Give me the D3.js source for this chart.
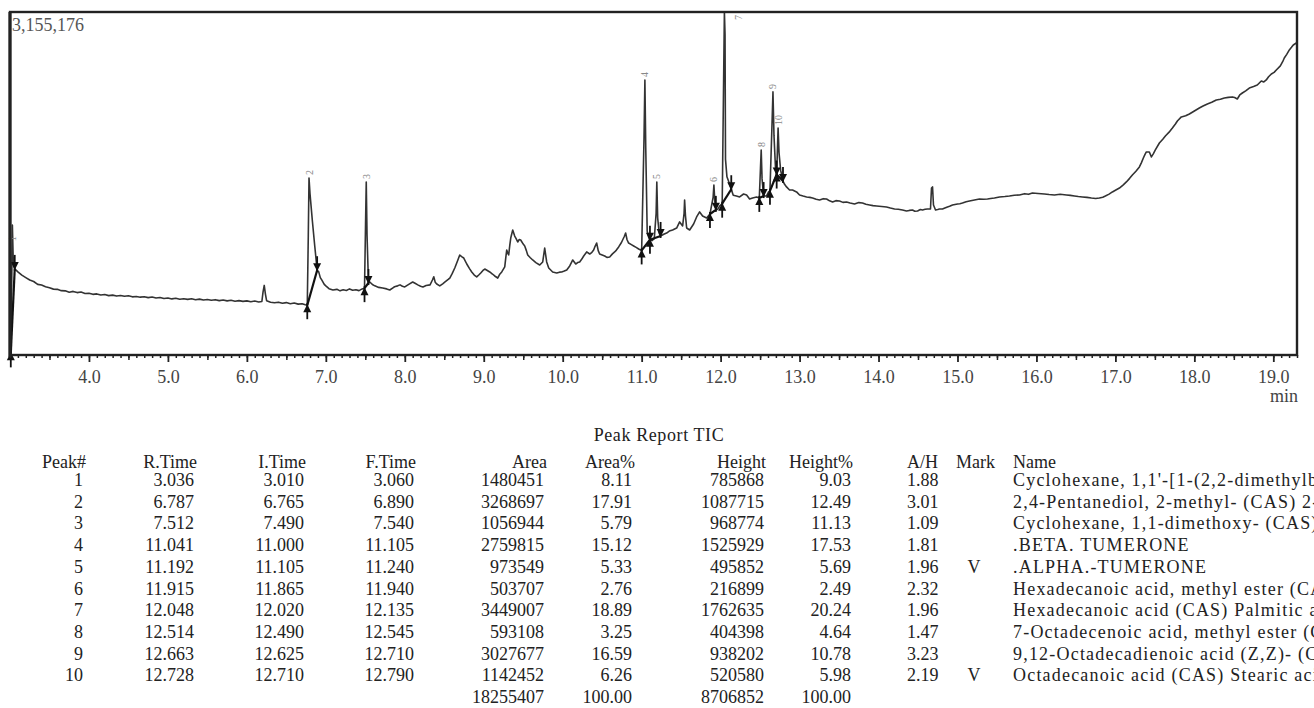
<!DOCTYPE html>
<html>
<head>
<meta charset="utf-8">
<script src="https://cdn.jsdelivr.net/npm/d3@7/dist/d3.min.js"></script>
<style>
    body { margin: 0; background: #fff; }
    svg { display: block; font-family: "Liberation Serif", "Times New Roman", serif; }
</style>
</head>
<body>
<div id="chart"></div>
<script>
// TIC trace: [retention time (min), intensity (x1000 counts)]
var trace = [
    [3.000, 0], [3.010, 15], [3.022, 700], [3.030, 1196], [3.040, 900], [3.050, 820], [3.060, 792],
    [3.10, 765], [3.15, 735], [3.20, 712], [3.25, 690], [3.30, 676], [3.35, 650], [3.40, 644], [3.45, 628],
    [3.50, 618], [3.55, 606], [3.60, 604], [3.65, 592], [3.70, 590], [3.75, 578], [3.80, 585], [3.85, 574],
    [3.90, 579], [3.95, 566], [4.00, 568], [4.05, 558], [4.10, 562], [4.15, 552], [4.20, 556], [4.25, 546],
    [4.30, 551], [4.35, 542], [4.40, 548], [4.45, 540], [4.50, 545], [4.55, 535], [4.60, 538], [4.65, 532],
    [4.70, 536], [4.75, 528], [4.80, 533], [4.85, 524], [4.90, 529], [4.95, 520], [5.00, 525], [5.05, 516],
    [5.10, 522], [5.15, 513], [5.20, 518], [5.25, 512], [5.30, 517], [5.35, 508], [5.40, 514], [5.45, 506],
    [5.50, 511], [5.55, 503], [5.60, 509], [5.65, 500], [5.70, 506], [5.75, 498], [5.80, 503], [5.85, 495],
    [5.90, 500], [5.95, 493], [6.00, 498], [6.05, 490], [6.10, 496], [6.15, 488], [6.19, 492], [6.205, 580],
    [6.22, 640], [6.235, 560], [6.25, 500], [6.30, 486], [6.35, 480], [6.40, 486], [6.45, 476], [6.50, 482],
    [6.55, 472], [6.60, 478], [6.65, 468], [6.70, 472], [6.74, 462], [6.765, 458],
    [6.778, 1100], [6.787, 1628], [6.80, 1480], [6.83, 1230], [6.86, 1000], [6.89, 780], [6.91, 765],
    [6.93, 712], [6.95, 688], [6.98, 650], [7.00, 636], [7.04, 610], [7.09, 598], [7.14, 604], [7.18, 590],
    [7.22, 600], [7.26, 594], [7.30, 608], [7.34, 596], [7.38, 600], [7.42, 592], [7.46, 608], [7.49, 615],
    [7.503, 1200], [7.512, 1592], [7.522, 1100], [7.540, 662], [7.557, 672], [7.59, 648], [7.62, 636],
    [7.67, 622], [7.72, 616], [7.77, 608], [7.81, 598], [7.85, 618], [7.87, 628], [7.91, 636], [7.94, 645],
    [7.97, 632], [8.00, 626], [8.05, 650], [8.10, 672], [8.13, 660], [8.165, 645], [8.20, 632], [8.23, 626],
    [8.27, 640], [8.32, 645], [8.35, 690], [8.367, 720], [8.385, 670], [8.405, 653], [8.443, 636],
    [8.48, 655], [8.51, 672], [8.55, 695], [8.57, 708], [8.60, 748], [8.633, 800], [8.67, 870], [8.696, 920],
    [8.72, 905], [8.747, 892], [8.785, 837], [8.82, 795], [8.848, 764], [8.88, 735], [8.911, 718],
    [8.94, 738], [8.962, 754], [8.99, 778], [9.013, 791], [9.04, 780], [9.076, 764], [9.11, 745],
    [9.139, 727], [9.177, 708], [9.20, 740], [9.228, 764], [9.266, 810], [9.28, 900], [9.291, 966],
    [9.305, 935], [9.316, 920], [9.33, 1010], [9.342, 1076], [9.367, 1150], [9.392, 1094], [9.41, 1070],
    [9.43, 1040], [9.45, 1062], [9.468, 1058], [9.50, 1020], [9.519, 1003], [9.54, 960], [9.557, 920],
    [9.59, 895], [9.62, 874], [9.66, 850], [9.709, 828], [9.747, 856], [9.772, 984], [9.797, 856],
    [9.823, 800], [9.873, 764], [9.924, 754], [9.96, 762], [9.987, 764], [10.02, 772], [10.051, 782],
    [10.089, 819], [10.11, 850], [10.127, 874], [10.165, 837], [10.19, 850], [10.215, 856], [10.24, 880],
    [10.266, 911], [10.304, 948], [10.342, 929], [10.37, 945], [10.392, 966], [10.41, 1000], [10.43, 1030],
    [10.45, 960], [10.468, 929], [10.50, 920], [10.532, 911], [10.56, 898], [10.595, 902], [10.63, 930],
    [10.658, 948], [10.68, 965], [10.709, 994], [10.74, 1030], [10.759, 1058], [10.78, 1090], [10.797, 1122],
    [10.815, 1060], [10.835, 1030], [10.87, 1015], [10.899, 1003], [10.93, 990], [10.962, 975], [11.000, 962],
    [11.030, 2000], [11.041, 2530], [11.052, 1900], [11.07, 1140], [11.09, 1080], [11.105, 1060],
    [11.13, 1052], [11.16, 1070], [11.183, 1300], [11.192, 1592], [11.203, 1260], [11.222, 1120],
    [11.240, 1095], [11.28, 1110], [11.316, 1122], [11.35, 1140], [11.392, 1150], [11.443, 1168],
    [11.481, 1224], [11.519, 1187], [11.537, 1300], [11.544, 1426], [11.555, 1280], [11.570, 1168],
    [11.608, 1150], [11.658, 1205], [11.696, 1270], [11.734, 1316], [11.772, 1279], [11.823, 1260],
    [11.865, 1297], [11.905, 1450], [11.915, 1564], [11.927, 1410], [11.940, 1335], [11.962, 1340],
    [11.99, 1372], [12.020, 1392], [12.040, 2650], [12.048, 3155], [12.056, 2950], [12.062, 1800],
    [12.08, 1640], [12.10, 1600], [12.135, 1525], [12.16, 1470], [12.20, 1462], [12.241, 1454],
    [12.291, 1481], [12.329, 1472], [12.367, 1435], [12.405, 1444], [12.456, 1454], [12.490, 1445],
    [12.505, 1720], [12.514, 1886], [12.525, 1620], [12.545, 1462], [12.582, 1463], [12.608, 1500],
    [12.625, 1510], [12.650, 2100], [12.663, 2420], [12.676, 2020], [12.695, 1720], [12.710, 1660],
    [12.720, 1900], [12.728, 2088], [12.740, 1860], [12.760, 1700], [12.790, 1600], [12.81, 1570],
    [12.835, 1546], [12.873, 1518], [12.911, 1518], [12.962, 1500], [13.000, 1472], [13.045, 1462],
    [13.089, 1454], [13.13, 1450], [13.165, 1444], [13.21, 1432], [13.253, 1426], [13.30, 1438],
    [13.342, 1435], [13.38, 1418], [13.418, 1408], [13.46, 1420], [13.506, 1417], [13.55, 1404],
    [13.595, 1408], [13.64, 1398], [13.696, 1389], [13.75, 1402], [13.797, 1398], [13.84, 1386],
    [13.886, 1380], [13.93, 1374], [13.975, 1371], [14.04, 1366], [14.101, 1362], [14.15, 1352],
    [14.203, 1343], [14.25, 1340], [14.304, 1334], [14.354, 1325], [14.39, 1330], [14.430, 1334],
    [14.46, 1322], [14.494, 1325], [14.53, 1338], [14.557, 1334], [14.59, 1340], [14.620, 1343],
    [14.658, 1343], [14.671, 1536], [14.684, 1546], [14.696, 1380], [14.722, 1334], [14.75, 1338],
    [14.772, 1343], [14.810, 1343], [14.84, 1352], [14.873, 1362], [14.90, 1368], [14.937, 1380],
    [15.000, 1389], [15.03, 1392], [15.063, 1398], [15.11, 1410], [15.152, 1417], [15.215, 1426],
    [15.278, 1435], [15.33, 1432], [15.380, 1435], [15.42, 1440], [15.468, 1444], [15.532, 1454],
    [15.60, 1458], [15.658, 1463], [15.72, 1470], [15.785, 1472], [15.85, 1484], [15.90, 1478],
    [15.949, 1490], [16.02, 1486], [16.101, 1481], [16.16, 1476], [16.228, 1472], [16.30, 1478],
    [16.380, 1472], [16.43, 1468], [16.481, 1463], [16.53, 1458], [16.582, 1454], [16.64, 1450],
    [16.696, 1444], [16.75, 1440], [16.797, 1444], [16.84, 1452], [16.873, 1463], [16.92, 1480],
    [16.962, 1500], [17.00, 1515], [17.051, 1536], [17.10, 1565], [17.139, 1592], [17.18, 1625],
    [17.215, 1656], [17.26, 1690], [17.304, 1730], [17.33, 1770], [17.354, 1812], [17.375, 1845],
    [17.392, 1868], [17.430, 1868], [17.456, 1822], [17.48, 1850], [17.506, 1886], [17.557, 1950],
    [17.60, 1985], [17.633, 2015], [17.68, 2050], [17.722, 2088], [17.76, 2125], [17.785, 2153],
    [17.835, 2190], [17.89, 2200], [17.937, 2217], [18.00, 2245], [18.063, 2272], [18.11, 2290],
    [18.165, 2309], [18.22, 2325], [18.278, 2346], [18.33, 2352], [18.380, 2364], [18.43, 2370],
    [18.481, 2374], [18.51, 2368], [18.544, 2355], [18.575, 2392], [18.608, 2410], [18.65, 2430],
    [18.696, 2456], [18.75, 2470], [18.797, 2484], [18.848, 2521], [18.88, 2512], [18.911, 2530],
    [18.94, 2560], [18.975, 2585], [19.01, 2600], [19.038, 2622], [19.089, 2659], [19.12, 2700],
    [19.139, 2732], [19.17, 2765], [19.203, 2806], [19.23, 2830], [19.253, 2852], [19.291, 2870]
];
var yMax = 3155.176;          // top of the window (x1000), printed as 3,155,176
var timeRange = [3.0, 19.3];
var majorTicks = [4, 5, 6, 7, 8, 9, 10, 11, 12, 13, 14, 15, 16, 17, 18, 19];

// peak report table
var peakNo = [1, 2, 3, 4, 5, 6, 7, 8, 9, 10];
var rTime = [3.036, 6.787, 7.512, 11.041, 11.192, 11.915, 12.048, 12.514, 12.663, 12.728];
var iTime = [3.010, 6.765, 7.490, 11.000, 11.105, 11.865, 12.020, 12.490, 12.625, 12.710];
var fTime = [3.060, 6.890, 7.540, 11.105, 11.240, 11.940, 12.135, 12.545, 12.710, 12.790];
var area = [1480451, 3268697, 1056944, 2759815, 973549, 503707, 3449007, 593108, 3027677, 1142452];
var areaPct = [8.11, 17.91, 5.79, 15.12, 5.33, 2.76, 18.89, 3.25, 16.59, 6.26];
var height = [785868, 1087715, 968774, 1525929, 495852, 216899, 1762635, 404398, 938202, 520580];
var heightPct = [9.03, 12.49, 11.13, 17.53, 5.69, 2.49, 20.24, 4.64, 10.78, 5.98];
var aH = [1.88, 3.01, 1.09, 1.81, 1.96, 2.32, 1.96, 1.47, 3.23, 2.19];
var mark = ['', '', '', '', 'V', '', '', '', '', 'V'];
var names = [
    "Cyclohexane, 1,1'-[1-(2,2-dimethylbutyl)-1,3-propanediyl]bis- (CAS)",
    "2,4-Pentanediol, 2-methyl- (CAS) 2-Methyl-2,4-pentanediol",
    "Cyclohexane, 1,1-dimethoxy- (CAS) Cyclohexanone dimethyl ketal",
    ".BETA. TUMERONE",
    ".ALPHA.-TUMERONE",
    "Hexadecanoic acid, methyl ester (CAS) Methyl palmitate",
    "Hexadecanoic acid (CAS) Palmitic acid",
    "7-Octadecenoic acid, methyl ester (CAS)",
    "9,12-Octadecadienoic acid (Z,Z)- (CAS) Linoleic acid",
    "Octadecanoic acid (CAS) Stearic acid"
];
var totals = { area: 18255407, areaPct: 100.00, height: 8706852, heightPct: 100.00 };

var W = 1314, H = 708;
var plot = { left: 10, right: 1297, top: 12, bottom: 355 };

var svg = d3.select('#chart').append('svg')
    .attr('width', W)
    .attr('height', H)
    .attr('viewBox', '0 0 ' + W + ' ' + H);

svg.append('rect').attr('width', W).attr('height', H).attr('fill', '#fff');

var x = d3.scaleLinear().domain(timeRange).range([plot.left, plot.right]);
var y = d3.scaleLinear().domain([0, yMax]).range([plot.bottom, plot.top]);

// value of the trace at time t (for the integration markers)
var bis = d3.bisector(function (d) { return d[0]; }).left;
function traceAt(t) {
    var i = bis(trace, t);
    if (i <= 0) return trace[0][1];
    if (i >= trace.length) return trace[trace.length - 1][1];
    var a = trace[i - 1], b = trace[i];
    return a[1] + (b[1] - a[1]) * (t - a[0]) / (b[0] - a[0]);
}

svg.append('clipPath').attr('id', 'plotclip')
    .append('rect')
    .attr('x', plot.left).attr('y', plot.top)
    .attr('width', plot.right - plot.left).attr('height', plot.bottom - plot.top);

// chromatogram
var line = d3.line()
    .x(function (d) { return x(d[0]); })
    .y(function (d) { return y(d[1]); });

svg.append('path')
    .datum(trace)
    .attr('clip-path', 'url(#plotclip)')
    .attr('fill', 'none')
    .attr('stroke', '#333')
    .attr('stroke-width', 1.6)
    .attr('stroke-linejoin', 'round')
    .attr('d', line);

// integration baselines + start/end arrows
var gInt = svg.append('g').attr('stroke', '#111').attr('fill', '#111');
peakNo.forEach(function (p, i) {
    var x0 = x(iTime[i]), y0 = y(traceAt(iTime[i]));
    var x1 = x(fTime[i]), y1 = y(traceAt(fTime[i]));
    gInt.append('line')
        .attr('x1', x0).attr('y1', y0).attr('x2', x1).attr('y2', y1)
        .attr('stroke-width', 2.2);
    // start: arrow pointing up, below the trace
    gInt.append('line').attr('x1', x0).attr('x2', x0).attr('y1', y0 - 2).attr('y2', y0 + 14).attr('stroke-width', 1.8);
    gInt.append('path').attr('stroke', 'none')
        .attr('d', 'M' + x0 + ',' + (y0 - 1) + 'l-4,8h8z');
    // end: arrow pointing down, above the trace
    gInt.append('line').attr('x1', x1).attr('x2', x1).attr('y1', y1 - 14).attr('y2', y1 + 2).attr('stroke-width', 1.8);
    gInt.append('path').attr('stroke', 'none')
        .attr('d', 'M' + x1 + ',' + (y1 + 1) + 'l-4,-8h8z');
});

// peak numbers, rotated, above each apex
svg.append('g').selectAll('text')
    .data(peakNo)
    .join('text')
    .attr('transform', function (p, i) {
        var px = x(rTime[i]) + 3.5, py = y(traceAt(rTime[i])) - 3;
        if (py < plot.top + 12) { px += 14; py = plot.top + 8; }
        return 'translate(' + px + ',' + py + ') rotate(-90)';
    })
    .attr('font-size', 10)
    .attr('fill', '#888')
    .text(function (p) { return p; });

// frame
svg.append('rect')
    .attr('x', plot.left).attr('y', plot.top)
    .attr('width', plot.right - plot.left).attr('height', plot.bottom - plot.top)
    .attr('fill', 'none').attr('stroke', '#222').attr('stroke-width', 2.4);
svg.append('line')
    .attr('x1', plot.left).attr('x2', plot.left).attr('y1', plot.top).attr('y2', plot.bottom + 2)
    .attr('stroke', '#222').attr('stroke-width', 3.2);

// x axis: minor 0.1, mid 0.5, major 1.0 min
var minorTicks = d3.range(30, 194).map(function (d) { return d / 10; });
var halfTicks = d3.range(3.5, 19.3, 1);

function tickAxis(values, size) {
    var g = svg.append('g')
        .attr('transform', 'translate(0,' + plot.bottom + ')')
        .call(d3.axisBottom(x).tickValues(values).tickSize(size).tickFormat(''));
    g.select('.domain').remove();
    g.selectAll('.tick line').attr('stroke', '#222').attr('stroke-width', 1.5);
    return g;
}
tickAxis(minorTicks, 3);
tickAxis(halfTicks, 5);
var gMajor = svg.append('g')
    .attr('transform', 'translate(0,' + plot.bottom + ')')
    .call(d3.axisBottom(x).tickValues(majorTicks).tickSize(7).tickPadding(8).tickFormat(d3.format('.1f')));
gMajor.select('.domain').remove();
gMajor.selectAll('.tick line').attr('stroke', '#222').attr('stroke-width', 1.8);
gMajor.selectAll('.tick text')
    .attr('font-family', '"Liberation Serif", serif')
    .attr('font-size', 18)
    .attr('fill', '#444');

svg.append('text')
    .attr('x', plot.right + 1).attr('y', 402)
    .attr('text-anchor', 'end')
    .attr('font-size', 18).attr('fill', '#444')
    .text('min');

svg.append('text')
    .attr('x', plot.left + 2).attr('y', 31)
    .attr('font-size', 18).attr('fill', '#555')
    .text(d3.format(',')(Math.round(yMax * 1000)));

// peak report table
var f3 = d3.format('.3f'), f2 = d3.format('.2f');
var cols = [
    { head: 'Peak#', hx: 86, vx: 83, anchor: 'end', v: function (i) { return peakNo[i]; } },
    { head: 'R.Time', hx: 197, vx: 194, anchor: 'end', v: function (i) { return f3(rTime[i]); } },
    { head: 'I.Time', hx: 306, vx: 304, anchor: 'end', v: function (i) { return f3(iTime[i]); } },
    { head: 'F.Time', hx: 416, vx: 414, anchor: 'end', v: function (i) { return f3(fTime[i]); } },
    { head: 'Area', hx: 547, vx: 544, anchor: 'end', v: function (i) { return area[i]; }, total: totals.area },
    { head: 'Area%', hx: 635, vx: 632, anchor: 'end', v: function (i) { return f2(areaPct[i]); }, total: f2(totals.areaPct) },
    { head: 'Height', hx: 766, vx: 764, anchor: 'end', v: function (i) { return height[i]; }, total: totals.height },
    { head: 'Height%', hx: 853, vx: 851, anchor: 'end', v: function (i) { return f2(heightPct[i]); }, total: f2(totals.heightPct) },
    { head: 'A/H', hx: 907, vx: 907, anchor: 'start', v: function (i) { return f2(aH[i]); } },
    { head: 'Mark', hx: 956, vx: 974, anchor: 'start', vanchor: 'middle', v: function (i) { return mark[i]; } },
    { head: 'Name', hx: 1013, vx: 1013, anchor: 'start', spacing: 1.2, v: function (i) { return names[i]; } }
];

var rowY0 = 486, rowStep = 21.7, headY = 468;
var gTab = svg.append('g').attr('font-size', 18).attr('fill', '#222');

gTab.append('text')
    .attr('x', 659).attr('y', 441)
    .attr('text-anchor', 'middle')
    .attr('letter-spacing', 0.6)
    .text('Peak Report TIC');

cols.forEach(function (c) {
    gTab.append('text')
        .attr('x', c.hx).attr('y', headY)
        .attr('text-anchor', c.anchor)
        .text(c.head);
    // long names run off the right edge, as in the printout
    gTab.selectAll(null)
        .data(peakNo)
        .join('text')
        .attr('x', c.vx)
        .attr('y', function (p, i) { return rowY0 + i * rowStep; })
        .attr('text-anchor', c.vanchor || c.anchor)
        .attr('letter-spacing', c.spacing || null)
        .text(function (p, i) { return c.v(i); });
    if (c.total !== undefined) {
        gTab.append('text')
            .attr('x', c.vx).attr('y', rowY0 + peakNo.length * rowStep)
            .attr('text-anchor', c.anchor)
            .text(c.total);
    }
});
</script>
</body>
</html>
